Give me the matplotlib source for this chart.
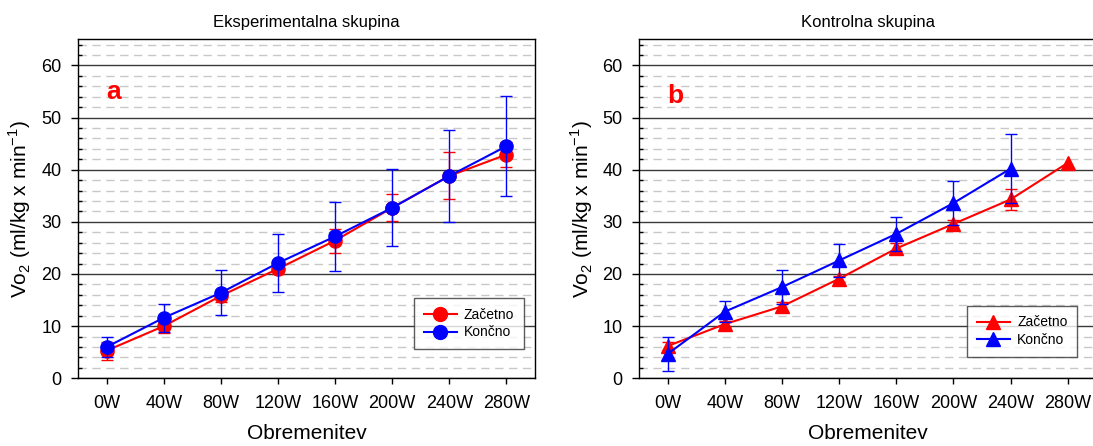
import numpy as np
import matplotlib
matplotlib.use("Agg")
import matplotlib.pyplot as plt
from matplotlib.ticker import MultipleLocator
from matplotlib.lines import Line2D

plt.rcParams['font.family'] = ['Liberation Sans', 'DejaVu Sans']
plt.rcParams['mathtext.fontset'] = 'custom'
plt.rcParams['mathtext.rm'] = 'Liberation Sans'

# obremenitev (load)
loads = ['0W', '40W', '80W', '120W', '160W', '200W', '240W', '280W']

# a - Eksperimentalna skupina
exp_start = [5.3, 10.0, 15.8, 21.0, 26.4, 32.7, 38.8, 42.9]
exp_start_err = [1.7, 1.3, 1.2, 1.0, 2.3, 2.6, 4.5, 2.4]
exp_end = [6.0, 11.6, 16.4, 22.1, 27.2, 32.7, 38.8, 44.5]
exp_end_err = [2.0, 2.7, 4.3, 5.6, 6.6, 7.4, 8.9, 9.6]

# b - Kontrolna skupina
ctl_start = [6.2, 10.4, 13.8, 19.1, 24.9, 29.6, 34.3, 41.3]
ctl_start_err = [0.8, 0.6, 0.8, 0.6, 1.0, 0.8, 2.0, np.nan]
ctl_end = [4.7, 12.8, 17.5, 22.6, 27.7, 33.6, 40.2, np.nan]
ctl_end_err = [3.3, 2.0, 3.2, 3.1, 3.2, 4.3, 6.6, np.nan]

RED = '#ff0000'
BLUE = '#0000ff'

fig = plt.figure(figsize=(10.93, 4.46), dpi=100)
ax1 = fig.add_axes([78 / 1093, 1 - 378.3 / 446, 457 / 1093, 339 / 446])
ax2 = fig.add_axes([639.3 / 1093, 1 - 378.3 / 446, 457 / 1093, 339 / 446])


def style_axes(ax, title, letter, ly):
    ax.set_xlim(-0.5, 7.5)
    ax.set_ylim(0, 65)
    ax.set_xticks(range(len(loads)))
    ax.set_xticklabels(loads)
    ax.yaxis.set_major_locator(MultipleLocator(10))
    ax.yaxis.set_minor_locator(MultipleLocator(2))
    ax.set_yticks([0, 10, 20, 30, 40, 50, 60])
    ax.grid(axis='y', which='major', color='#3a3a3a', lw=1.0, zorder=0)
    ax.grid(axis='y', which='minor', color='#c8c8c8', lw=1.0,
            dashes=(6, 4), zorder=0)
    ax.set_axisbelow(True)
    ax.tick_params(axis='x', length=4, width=1, pad=8, labelsize=13)
    ax.tick_params(axis='y', which='major', length=5, width=1, pad=7,
                   labelsize=13)
    ax.tick_params(axis='y', which='minor', direction='in', length=3,
                   width=1)
    for s in ax.spines.values():
        s.set_linewidth(1.0)
        s.set_color('black')
    ax.set_title(title, fontsize=12, pad=9)
    ax.set_xlabel('Obremenitev', fontsize=15)
    ax.xaxis.set_label_coords(0.5, -0.135)
    ax.set_ylabel('Vo$_\\mathregular{2}$ (ml/kg x min$^\\mathregular{-1}$)',
                  fontsize=15)
    ax.yaxis.set_label_coords(-0.098, 0.5)
    ax.text(0.13, ly, letter, color=RED, fontsize=19, fontweight='bold',
            ha='center', va='baseline')


def add_legend(ax, marker, anchor):
    handles = [Line2D([0], [0], color=RED, marker=marker, markersize=10,
                      lw=1.5),
               Line2D([0], [0], color=BLUE, marker=marker, markersize=10,
                      lw=1.5)]
    leg = ax.legend(handles, ['Začetno', 'Končno'], loc='lower right',
                    bbox_to_anchor=anchor, borderaxespad=0, fontsize=10,
                    frameon=True, fancybox=False, handlelength=2.4,
                    borderpad=0.7, labelspacing=0.25, handletextpad=0.5)
    leg.get_frame().set_edgecolor('#333333')
    leg.get_frame().set_linewidth(1.0)


x = np.arange(len(loads))

# panel a
ax1.errorbar(x, exp_start, yerr=exp_start_err, color=RED, marker='o',
             markersize=9.5, lw=1.5, elinewidth=1, capsize=4, capthick=1,
             zorder=3)
ax1.errorbar(x, exp_end, yerr=exp_end_err, color=BLUE, marker='o',
             markersize=9.5, lw=1.5, elinewidth=1, capsize=4, capthick=1,
             zorder=4)
style_axes(ax1, 'Eksperimentalna skupina', 'a', 53.6)
add_legend(ax1, 'o', (0.976, 0.086))

# panel b
ax2.errorbar(x, ctl_start, yerr=ctl_start_err, color=RED, marker='^',
             markersize=10, lw=1.5, elinewidth=1, capsize=4, capthick=1,
             zorder=3)
ax2.errorbar(x, ctl_end, yerr=ctl_end_err, color=BLUE, marker='^',
             markersize=10, lw=1.5, elinewidth=1, capsize=4, capthick=1,
             zorder=4)
style_axes(ax2, 'Kontrolna skupina', 'b', 52.7)
add_legend(ax2, '^', (0.958, 0.064))

fig.savefig('out.png', dpi=100)
